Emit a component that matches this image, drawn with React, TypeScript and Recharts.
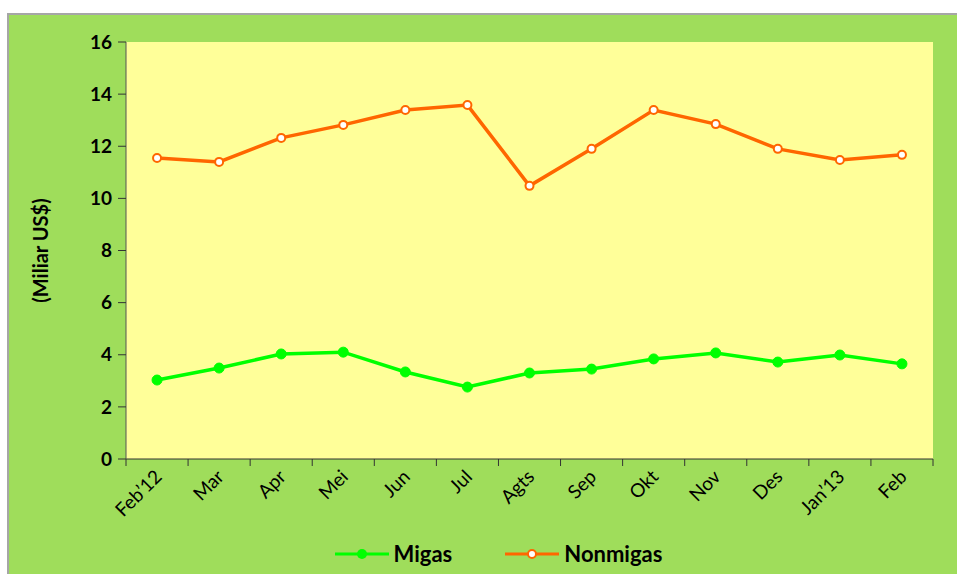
import React from 'react';
import { LineChart, Line, XAxis, YAxis, Legend } from 'recharts';

// Neraca ekspor: migas vs nonmigas (miliar US$)
const months = ['Feb\u201912', 'Mar', 'Apr', 'Mei', 'Jun', 'Jul', 'Agts', 'Sep', 'Okt', 'Nov', 'Des', 'Jan\u201913', 'Feb'];
const migas = [3.03, 3.49, 4.03, 4.1, 3.34, 2.76, 3.3, 3.45, 3.84, 4.07, 3.72, 3.99, 3.65];
const nonmigas = [11.55, 11.4, 12.32, 12.82, 13.39, 13.58, 10.48, 11.9, 13.39, 12.85, 11.9, 11.47, 11.67];
const yTicks = [0, 2, 4, 6, 8, 10, 12, 14, 16];

const data = months.map((m, i) => ({ name: m, migas: migas[i], nonmigas: nonmigas[i] }));

const FONT = 'Lato, "Open Sans", sans-serif';
const CHART_W = 950;
const CHART_H = 565;
const MARGIN = { top: 27, right: 26, left: 0, bottom: 0 };
const PLOT_W = CHART_W - 117 - MARGIN.right;
const STEP = PLOT_W / months.length;

const XTick = (props: any) => {
  const { x, y, payload, index } = props;
  const tx = x + 6;
  const ty = y + 19;
  return (
    <g>
      <line x1={x - STEP / 2} x2={x - STEP / 2} y1={y} y2={y + 7} stroke="#333" />
      {index === months.length - 1 && (
        <line x1={x + STEP / 2} x2={x + STEP / 2} y1={y} y2={y + 7} stroke="#333" />
      )}
      <text
        x={tx}
        y={ty}
        textAnchor="end"
        transform={`rotate(-45, ${tx}, ${ty})`}
        fontFamily={FONT}
        fontSize={19}
        fill="#000"
      >
        {payload.value}
      </text>
    </g>
  );
};

const LegendBox = () => (
  <div style={{ display: 'flex', justifyContent: 'center', gap: 52, paddingLeft: 54, fontFamily: FONT, fontWeight: 700, fontSize: 22 }}>
    <div style={{ display: 'flex', alignItems: 'center' }}>
      <svg width={56} height={14} style={{ marginRight: 4 }}>
        <line x1={1} x2={55} y1={7} y2={7} stroke="#00ff00" strokeWidth={3} />
        <circle cx={28} cy={7} r={5} fill="#00ff00" />
      </svg>
      <span>Migas</span>
    </div>
    <div style={{ display: 'flex', alignItems: 'center' }}>
      <svg width={56} height={14} style={{ marginRight: 4 }}>
        <line x1={1} x2={55} y1={7} y2={7} stroke="#ff6600" strokeWidth={3} />
        <circle cx={28} cy={7} r={4} fill="#fff" stroke="#ff6600" strokeWidth={2} />
      </svg>
      <span>Nonmigas</span>
    </div>
  </div>
);

export default function App() {
  return (
    <div style={{ position: 'absolute', left: 7, top: 13, width: 950, height: 561, overflow: 'hidden' }}>
      <div
        style={{
          width: CHART_W + 10,
          height: CHART_H + 10,
          background: '#9fdd5b',
          borderTop: '2px solid #a6a6a6',
          borderLeft: '2px solid #a6a6a6',
        }}
      >
        <LineChart width={CHART_W} height={CHART_H} data={data} margin={MARGIN}>
          <rect x={117} y={MARGIN.top} width={PLOT_W} height={417} fill="#ffff99" />
          <XAxis
            dataKey="name"
            interval={0}
            height={81}
            padding={{ left: STEP / 2, right: STEP / 2 }}
            tickSize={0}
            tickMargin={0}
            tickLine={false}
            axisLine={{ stroke: '#333' }}
            tick={<XTick />}
          />
          <YAxis
            width={117}
            domain={[0, 16]}
            ticks={yTicks}
            interval={0}
            tickSize={8}
            tickMargin={6}
            axisLine={{ stroke: '#555' }}
            tickLine={{ stroke: '#333' }}
            tick={{ fill: '#000', fontFamily: FONT, fontWeight: 700, fontSize: 19 }}
            label={({ viewBox }: any) => (
              <text
                x={34}
                y={viewBox.y + viewBox.height / 2}
                textAnchor="middle"
                dominantBaseline="middle"
                transform={`rotate(-90, 34, ${viewBox.y + viewBox.height / 2})`}
                fontFamily={FONT}
                fontWeight={700}
                fontSize={20}
                fill="#000"
              >
                (Miliar US$)
              </text>
            )}
          />
          <Legend verticalAlign="bottom" height={40} content={<LegendBox />} />
          <Line
            dataKey="migas"
            name="Migas"
            stroke="#00ff00"
            strokeWidth={3.5}
            dot={{ r: 5, fill: '#00ff00', stroke: '#00ff00', strokeWidth: 1 }}
            isAnimationActive={false}
          />
          <Line
            dataKey="nonmigas"
            name="Nonmigas"
            stroke="#ff6600"
            strokeWidth={3.5}
            dot={{ r: 4, fill: '#ffffff', stroke: '#ff6600', strokeWidth: 2 }}
            isAnimationActive={false}
          />
        </LineChart>
      </div>
    </div>
  );
}
